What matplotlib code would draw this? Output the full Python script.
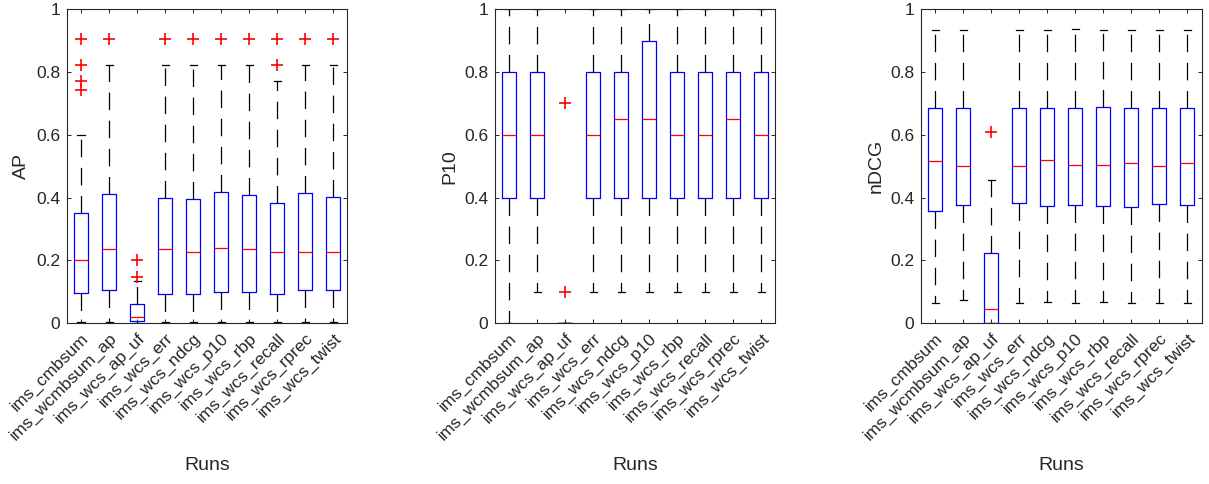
import matplotlib.pyplot as plt

plt.rcParams['font.family'] = ['Liberation Sans', 'DejaVu Sans']

runs = ['ims_cmbsum', 'ims_wcmbsum_ap', 'ims_wcs_ap_uf', 'ims_wcs_err',
        'ims_wcs_ndcg', 'ims_wcs_p10', 'ims_wcs_rbp', 'ims_wcs_recall',
        'ims_wcs_rprec', 'ims_wcs_twist']

# AP
ap_q1 = [0.095, 0.105, 0.007, 0.093, 0.093, 0.101, 0.101, 0.093, 0.105, 0.105]
ap_med = [0.200, 0.236, 0.021, 0.236, 0.226, 0.239, 0.238, 0.226, 0.226, 0.228]
ap_q3 = [0.350, 0.411, 0.060, 0.400, 0.395, 0.419, 0.408, 0.382, 0.414, 0.403]
ap_lo = [0.005, 0.005, 0.0, 0.005, 0.005, 0.005, 0.005, 0.005, 0.005, 0.005]
ap_hi = [0.598, 0.821, 0.135, 0.821, 0.821, 0.821, 0.821, 0.770, 0.821, 0.821]
ap_out = [[0.906, 0.823, 0.770, 0.743], [0.906], [0.200, 0.148], [0.906], [0.906],
          [0.906], [0.906], [0.906, 0.823], [0.906], [0.906]]

# P10
p10_q1 = [0.4, 0.4, 0.0, 0.4, 0.4, 0.4, 0.4, 0.4, 0.4, 0.4]
p10_med = [0.6, 0.6, 0.0, 0.6, 0.65, 0.65, 0.6, 0.6, 0.65, 0.6]
p10_q3 = [0.8, 0.8, 0.0, 0.8, 0.8, 0.9, 0.8, 0.8, 0.8, 0.8]
p10_lo = [0.0, 0.1, 0.0, 0.1, 0.1, 0.1, 0.1, 0.1, 0.1, 0.1]
p10_hi = [1.0, 1.0, 0.0, 1.0, 1.0, 1.0, 1.0, 1.0, 1.0, 1.0]
p10_out = [[], [], [0.7, 0.1], [], [], [], [], [], [], []]

# nDCG
ndcg_q1 = [0.358, 0.376, 0.0, 0.382, 0.374, 0.376, 0.374, 0.369, 0.380, 0.376]
ndcg_med = [0.516, 0.501, 0.047, 0.501, 0.521, 0.503, 0.503, 0.510, 0.501, 0.510]
ndcg_q3 = [0.687, 0.685, 0.223, 0.687, 0.687, 0.687, 0.690, 0.687, 0.685, 0.687]
ndcg_lo = [0.066, 0.074, 0.0, 0.066, 0.069, 0.066, 0.069, 0.066, 0.066, 0.066]
ndcg_hi = [0.934, 0.934, 0.456, 0.934, 0.934, 0.936, 0.934, 0.933, 0.934, 0.934]
ndcg_out = [[], [], [0.608], [], [], [], [], [], [], []]

panels = [
    ('AP', ap_q1, ap_med, ap_q3, ap_lo, ap_hi, ap_out),
    ('P10', p10_q1, p10_med, p10_q3, p10_lo, p10_hi, p10_out),
    ('nDCG', ndcg_q1, ndcg_med, ndcg_q3, ndcg_lo, ndcg_hi, ndcg_out),
]

fig = plt.figure(figsize=(12.09, 4.84), dpi=100)
lefts = [0.0554, 0.4094, 0.7618]
axcol = '#262626'

for left, (name, q1, med, q3, lo, hi, out) in zip(lefts, panels):
    ax = fig.add_axes([left, 0.332, 0.2320, 0.649])
    stats = []
    for i in range(len(runs)):
        stats.append({'q1': q1[i], 'med': med[i], 'q3': q3[i],
                      'whislo': lo[i], 'whishi': hi[i], 'fliers': out[i]})
    ax.bxp(stats, positions=range(1, len(runs) + 1), widths=0.5, capwidths=0.25,
           showfliers=True,
           boxprops=dict(color='blue', linewidth=0.9),
           medianprops=dict(color='red', linewidth=0.9),
           whiskerprops=dict(color='black', linewidth=0.9, linestyle=(0, (14, 8.5))),
           capprops=dict(color='black', linewidth=0.9),
           flierprops=dict(marker='+', markeredgecolor='red', markersize=8,
                           markeredgewidth=1.2, linestyle='none'))
    ax.set_xlim(0.5, len(runs) + 0.5)
    ax.set_ylim(0, 1)
    ax.set_yticks([0, 0.2, 0.4, 0.6, 0.8, 1])
    ax.set_yticklabels(['0', '0.2', '0.4', '0.6', '0.8', '1'])
    ax.set_xticks(range(1, len(runs) + 1))
    ax.set_xticklabels(runs, rotation=45, ha='right', va='top', rotation_mode='anchor')
    ax.tick_params(direction='in', length=3, width=0.7, colors=axcol,
                   labelsize=12.5, top=True, right=True, pad=5)
    for sp in ax.spines.values():
        sp.set_color(axcol)
        sp.set_linewidth(0.8)
    ax.set_ylabel(name, fontsize=14, color=axcol, labelpad=4)
    ax.set_xlabel('Runs', fontsize=14, color=axcol, labelpad=10)

fig.savefig('out.png', dpi=100)
